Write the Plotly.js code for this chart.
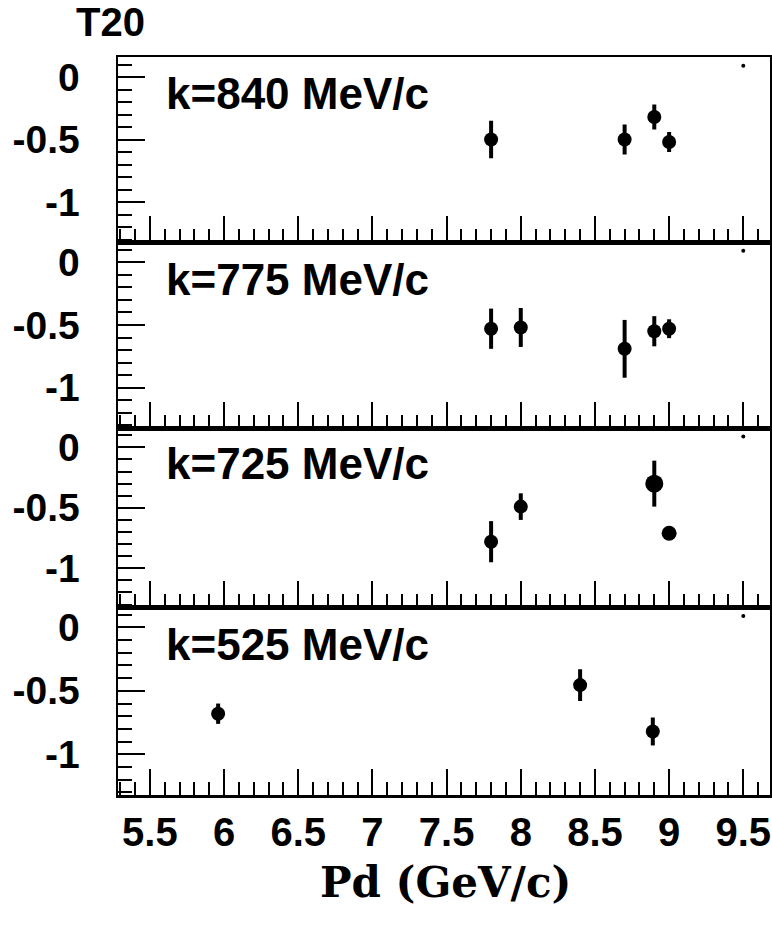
<!DOCTYPE html>
<html>
<head>
<meta charset="utf-8">
<script src="https://cdn.plot.ly/plotly-3.0.1.min.js"></script>
<style>html,body{margin:0;padding:0;background:#fff;}#chart{width:772px;height:935px;}</style>
</head>
<body>
<div id="chart"></div>
<script>
// Data (T20 vs deuteron momentum Pd, four k bins)
const panelLabels = ["k=840 MeV/c", "k=775 MeV/c", "k=725 MeV/c", "k=525 MeV/c"];

const pd840  = [7.80, 8.70, 8.90, 9.00];
const t20840 = [-0.50, -0.50, -0.32, -0.52];
const err840 = [0.15, 0.12, 0.10, 0.08];

const pd775  = [7.80, 8.00, 8.70, 8.90, 9.00];
const t20775 = [-0.53, -0.52, -0.69, -0.55, -0.53];
const err775 = [0.16, 0.155, 0.23, 0.12, 0.075];

const pd725  = [7.80, 8.00, 8.90, 9.00];
const t20725 = [-0.78, -0.49, -0.30, -0.71];
const err725 = [0.17, 0.11, 0.19, 0.0];

const pd525  = [5.96, 8.40, 8.89];
const t20525 = [-0.68, -0.455, -0.82];
const err525 = [0.08, 0.125, 0.11];

// small stray dot drawn at the top-right of every panel
const dotX = [9.5];
const dotY = [0.09];

const xTickVals = [5.5, 6, 6.5, 7, 7.5, 8, 8.5, 9, 9.5];
const xTickText = ["5.5", "6", "6.5", "7", "7.5", "8", "8.5", "9", "9.5"];
const yTickVals = [0, -0.5, -1];
const yTickText = ["0", "-0.5", "-1"];

const series = [
  {x: pd840, y: t20840, e: err840},
  {x: pd775, y: t20775, e: err775},
  {x: pd725, y: t20725, e: err725},
  {x: pd525, y: t20525, e: err525}
];

const plotTop = 57, plotBot = 795;
const bounds = [57, 242, 428, 607, 795];
const H = plotBot - plotTop;

const traces = [];
const layout = {
  width: 772, height: 935,
  margin: {l: 118, r: 2, t: 57, b: 140},
  paper_bgcolor: "#fff", plot_bgcolor: "#fff",
  showlegend: false,
  font: {family: "Liberation Sans, Arial, sans-serif", color: "#000"},
  annotations: []
};

series.forEach((s, i) => {
  const idx = i + 1;
  const xa = idx === 1 ? "x" : "x" + idx;
  const ya = idx === 1 ? "y" : "y" + idx;
  const sizes = s.x.map((_, j) => (i === 2 && j === 2) ? 18 : (i === 2 && j === 3 ? 15 : 14));
  traces.push({
    type: "scatter", mode: "markers",
    x: s.x, y: s.y, xaxis: xa, yaxis: ya,
    marker: {color: "#000", size: sizes, symbol: "circle", opacity: 1, line: {width: 0}},
    error_y: {type: "data", array: s.e, visible: true, color: "#000", thickness: 4, width: 0}
  });
  traces.push({
    type: "scatter", mode: "markers",
    x: dotX, y: dotY, xaxis: xa, yaxis: ya,
    marker: {color: "#000", size: 4, line: {width: 0}}
  });
  const top = bounds[i], bot = bounds[i + 1];
  const dom = [(plotBot - bot) / H, (plotBot - top) / H];
  const xk = idx === 1 ? "xaxis" : "xaxis" + idx;
  const yk = idx === 1 ? "yaxis" : "yaxis" + idx;
  layout[xk] = {
    domain: [0, 1], anchor: ya, range: [5.285, 9.68],
    showgrid: false, zeroline: false,
    showline: true, linecolor: "#000", linewidth: 2.5, mirror: true,
    ticks: "inside", ticklen: 26, tickwidth: 2, tickcolor: "#000",
    tickvals: xTickVals, ticktext: xTickText,
    showticklabels: idx === 4,
    tickfont: {family: "Liberation Sans, Arial, sans-serif", size: 40, color: "#000", weight: "bold"},
    ticklabelstandoff: 0,
    minor: {dtick: 0.1, tick0: 5.5, ticks: "inside", ticklen: 13, tickwidth: 2, tickcolor: "#000", showgrid: false}
  };
  if (idx !== 1) layout[xk].matches = "x";
  layout[yk] = {
    domain: dom, anchor: xa, range: [-1.32, 0.16],
    showgrid: false, zeroline: false,
    showline: true, linecolor: "#000", linewidth: 2.5, mirror: true,
    ticks: "inside", ticklen: 27, tickwidth: 2, tickcolor: "#000",
    tickvals: yTickVals, ticktext: yTickText,
    tickfont: {family: "Liberation Sans, Arial, sans-serif", size: 39, color: "#000", weight: "bold"},
    ticklabelstandoff: 28,
    minor: {dtick: 0.1, tick0: 0, ticks: "inside", ticklen: 14, tickwidth: 2, tickcolor: "#000", showgrid: false}
  };
  layout.annotations.push({
    xref: xa + " domain", yref: ya + " domain",
    x: 0.07, y: 0.80, xanchor: "left", yanchor: "middle",
    text: panelLabels[i], showarrow: false,
    font: {family: "Liberation Sans, Arial, sans-serif", size: 44, color: "#000", weight: "bold"}
  });
});

layout.annotations.push({
  xref: "paper", yref: "paper", x: -0.011, y: (plotBot - 22) / H,
  xanchor: "center", yanchor: "middle", text: "T20", showarrow: false,
  font: {family: "Liberation Sans, Arial, sans-serif", size: 40, color: "#000", weight: "bold"}
});
layout.annotations.push({
  xref: "paper", yref: "paper", x: 0.502, y: (plotBot - 882) / H,
  xanchor: "center", yanchor: "middle", text: "Pd (GeV/c)", showarrow: false,
  font: {family: "DejaVu Serif, Liberation Serif, serif", size: 42, color: "#000", weight: "bold"}
});

Plotly.newPlot("chart", traces, layout, {staticPlot: true, displayModeBar: false});
</script>
</body>
</html>
